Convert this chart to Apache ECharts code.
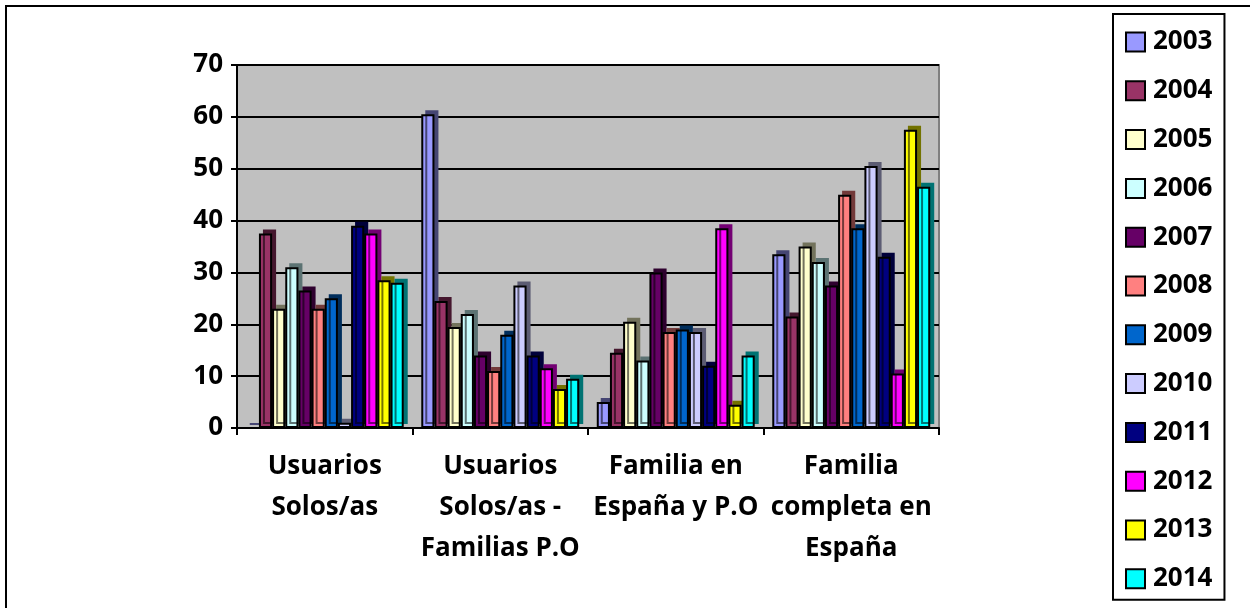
<!DOCTYPE html>
<html>
<head>
<meta charset="utf-8">
<script src="https://cdn.jsdelivr.net/npm/echarts@6/dist/echarts.min.js"></script>
<style>
  html, body { margin: 0; padding: 0; background: #fff; }
  #chart { width: 1250px; height: 608px; }
</style>
</head>
<body>
<div id="chart"></div>
<script>
// categories and tick labels
const categories = ['Usuarios Solos/as', 'Usuarios Solos/as - Familias P.O', 'Familia en España y P.O', 'Familia completa en España']
const tickLabels = ['Usuarios\nSolos/as', 'Usuarios\nSolos/as -\nFamilias P.O', 'Familia en\nEspaña y P.O', 'Familia\ncompleta en\nEspaña']
const yTicks = [0, 10, 20, 30, 40, 50, 60, 70]

// one array per year
const years = ['2003', '2004', '2005', '2006', '2007', '2008', '2009', '2010', '2011', '2012', '2013', '2014']
const v2003 = [0, 60.5, 5, 33.5]
const v2004 = [37.5, 24.5, 14.5, 21.5]
const v2005 = [23, 19.5, 20.5, 35]
const v2006 = [31, 22, 13, 32]
const v2007 = [26.5, 14, 30, 27.5]
const v2008 = [23, 11, 18.5, 45]
const v2009 = [25, 18, 19, 38.5]
const v2010 = [1, 27.5, 18.5, 50.5]
const v2011 = [39, 14, 12, 33]
const v2012 = [37.5, 11.5, 38.5, 10.5]
const v2013 = [28.5, 7.5, 4.5, 57.5]
const v2014 = [28, 9.5, 14, 46.5]
const values = [v2003, v2004, v2005, v2006, v2007, v2008, v2009, v2010, v2011, v2012, v2013, v2014]

const colors = ['#9999FF', '#993366', '#FFFFCC', '#CCFFFF', '#660066', '#FF8080',
  '#0066CC', '#CCCCFF', '#000080', '#FF00FF', '#FFFF00', '#00FFFF']

const FONT = '"Open Sans", "DejaVu Sans", sans-serif'

// darker shade for the fake 3D side of each bar
const darken = (hex, k) => {
  const n = parseInt(hex.slice(1), 16)
  const r = Math.round(((n >> 16) & 255) * k)
  const g = Math.round(((n >> 8) & 255) * k)
  const b = Math.round((n & 255) * k)
  return `rgb(${r},${g},${b})`
}

const chart = echarts.init(document.getElementById('chart'))

chart.setOption({
  animation: false,
  textStyle: { fontFamily: FONT },
  graphic: [{
    type: 'rect',
    shape: { x: 6, y: 6, width: 1300, height: 700 },
    style: { fill: 'none', stroke: '#000', lineWidth: 2 },
    silent: true
  }],
  grid: {
    left: 237,
    right: 311,
    top: 65,
    bottom: 180,
    show: true,
    backgroundColor: '#C0C0C0',
    borderColor: '#808080',
    borderWidth: 2
  },
  legend: {
    orient: 'vertical',
    left: 1113,
    top: 14,
    height: 590,
    padding: [15, 12, 8, 12],
    itemWidth: 19,
    itemHeight: 19,
    itemGap: 22.8,
    borderColor: '#000',
    borderWidth: 2,
    backgroundColor: '#fff',
    icon: 'rect',
    data: years,
    itemStyle: {
      borderColor: '#000',
      borderWidth: 2,
      shadowBlur: 0,
      shadowOffsetX: 0,
      shadowOffsetY: 0,
      shadowColor: 'transparent'
    },
    textStyle: {
      fontFamily: FONT,
      fontSize: 26,
      fontWeight: 'bold',
      color: '#000',
      padding: [0, 0, 0, 3]
    }
  },
  xAxis: {
    type: 'category',
    data: categories,
    axisLine: { lineStyle: { color: '#000', width: 2 } },
    axisTick: { show: true, length: 7, lineStyle: { color: '#000', width: 2 } },
    axisLabel: {
      interval: 0,
      margin: 18,
      fontFamily: FONT,
      fontSize: 26,
      fontWeight: 'bold',
      color: '#000',
      lineHeight: 41,
      formatter: (val) => tickLabels[categories.indexOf(val)]
    },
    splitLine: { show: false }
  },
  yAxis: {
    type: 'value',
    min: yTicks[0],
    max: yTicks[yTicks.length - 1],
    interval: 10,
    axisLine: { show: true, lineStyle: { color: '#000', width: 2 } },
    axisTick: { show: true, length: 6, lineStyle: { color: '#000', width: 2 } },
    axisLabel: {
      margin: 14,
      fontFamily: FONT,
      fontSize: 26,
      fontWeight: 'bold',
      color: '#000'
    },
    splitLine: { show: true, lineStyle: { color: '#000', width: 2 } }
  },
  series: years.map((year, i) => ({
    name: year,
    type: 'bar',
    data: values[i],
    barGap: '0%',
    barCategoryGap: '10%',
    itemStyle: {
      color: colors[i],
      borderColor: '#000',
      borderWidth: 2,
      shadowColor: darken(colors[i], 0.45),
      shadowBlur: 0,
      shadowOffsetX: 4,
      shadowOffsetY: -4
    }
  }))
})
</script>
</body>
</html>
